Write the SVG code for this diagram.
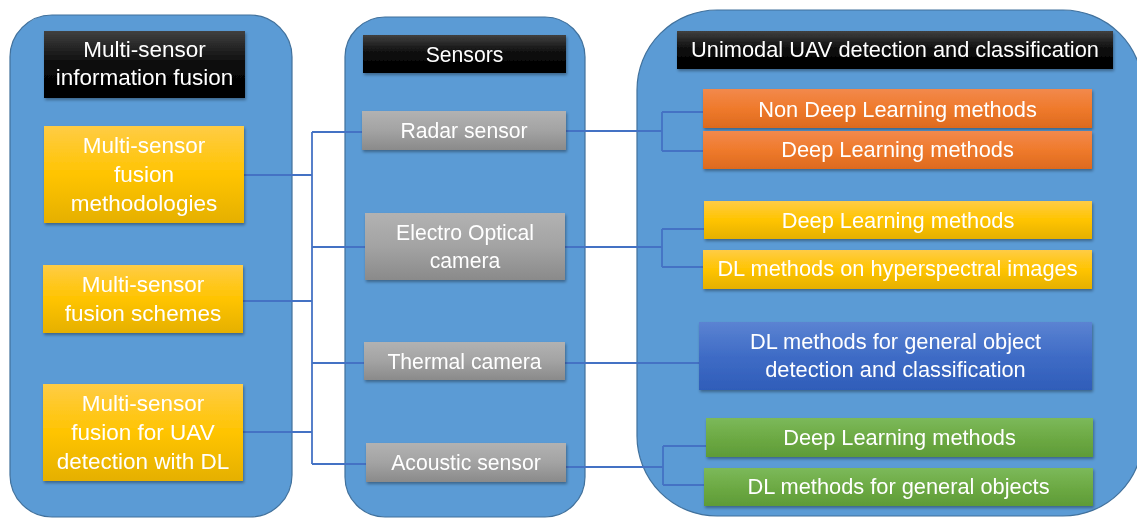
<svg xmlns="http://www.w3.org/2000/svg" width="1137" height="518" viewBox="0 0 1137 518">
<defs>
<linearGradient id="gBlack" x1="0" y1="0" x2="0" y2="1"><stop offset="0" stop-color="#404040"/><stop offset="0.5" stop-color="#0a0a0a"/><stop offset="1" stop-color="#000"/></linearGradient>
<linearGradient id="gYellow" x1="0" y1="0" x2="0" y2="1"><stop offset="0" stop-color="#FFCC45"/><stop offset="0.5" stop-color="#FFC400"/><stop offset="1" stop-color="#E5B000"/></linearGradient>
<linearGradient id="gOrange" x1="0" y1="0" x2="0" y2="1"><stop offset="0" stop-color="#F2894C"/><stop offset="0.5" stop-color="#EF7A2C"/><stop offset="1" stop-color="#DD6A1E"/></linearGradient>
<linearGradient id="gBlue" x1="0" y1="0" x2="0" y2="1"><stop offset="0" stop-color="#5B83D2"/><stop offset="0.5" stop-color="#3F6CC6"/><stop offset="1" stop-color="#2F5DB9"/></linearGradient>
<linearGradient id="gGreen" x1="0" y1="0" x2="0" y2="1"><stop offset="0" stop-color="#7CB95A"/><stop offset="0.5" stop-color="#6DAA44"/><stop offset="1" stop-color="#5E9B37"/></linearGradient>
<linearGradient id="gGray" x1="0" y1="0" x2="0" y2="1"><stop offset="0" stop-color="#B2B2B2"/><stop offset="0.5" stop-color="#A3A3A3"/><stop offset="1" stop-color="#8A8A8A"/></linearGradient>
<filter id="sh" x="-5%" y="-10%" width="110%" height="130%"><feDropShadow dx="1" dy="2" stdDeviation="1.5" flood-color="#000" flood-opacity="0.35"/></filter>
</defs>
<style>
.panel{fill:#5B9BD5;stroke:#41719C;stroke-width:1.2}
.box{filter:url(#sh)}
.t{font-family:"Liberation Sans",Arial,sans-serif;fill:#fff;text-anchor:middle}
.tl{font-size:22.5px}
.tm{font-size:21.2px}
.tr{font-size:21.8px}
.conn{fill:none;stroke:#4472C4;stroke-width:1.8}
</style>
<rect width="1137" height="518" fill="#fff"/>
<g id="panels">
<rect id="panel-left" class="panel" x="10" y="15" width="282" height="502" rx="42"/>
<rect id="panel-middle" class="panel" x="345" y="17" width="240" height="500" rx="40"/>
<rect id="panel-right" class="panel" x="637" y="10" width="506" height="506" rx="80"/>
</g>
<g id="connectors">
<path class="conn" d="M312 132 V464"/>
<path class="conn" d="M244 175 H312"/>
<path class="conn" d="M243 301 H312"/>
<path class="conn" d="M243 432 H312"/>
<path class="conn" d="M312 132 H362"/>
<path class="conn" d="M312 247 H365"/>
<path class="conn" d="M312 363 H364"/>
<path class="conn" d="M312 464 H366"/>
<path class="conn" d="M566 131 H662 M662 112 V151 M662 112 H703 M662 151 H703"/>
<path class="conn" d="M565 247 H662 M662 229 V267 M662 229 H704 M662 267 H703"/>
<path class="conn" d="M565 363 H699"/>
<path class="conn" d="M566 467 H663 M663 446 V485 M663 446 H706 M663 485 H704"/>
</g>
<g id="node-left-title" class="box"><rect x="44" y="31" width="201" height="67" fill="url(#gBlack)"/>
<text class="t tl" x="144.5" y="57">Multi-sensor</text><text class="t tl" x="144.5" y="85">information fusion</text></g>
<g id="node-fusion-methodologies" class="box"><rect x="44" y="126" width="200" height="97" fill="url(#gYellow)"/>
<text class="t tl" x="144" y="153">Multi-sensor</text><text class="t tl" x="144" y="182">fusion</text><text class="t tl" x="144" y="211">methodologies</text></g>
<g id="node-fusion-schemes" class="box"><rect x="43" y="265" width="200" height="68" fill="url(#gYellow)"/>
<text class="t tl" x="143" y="292">Multi-sensor</text><text class="t tl" x="143" y="321">fusion schemes</text></g>
<g id="node-fusion-uav" class="box"><rect x="43" y="384" width="200" height="97" fill="url(#gYellow)"/>
<text class="t tl" x="143" y="411">Multi-sensor</text><text class="t tl" x="143" y="440">fusion for UAV</text><text class="t tl" x="143" y="469">detection with DL</text></g>
<g id="node-sensors-title" class="box"><rect x="363" y="35" width="203" height="38" fill="url(#gBlack)"/>
<text class="t tm" x="464.5" y="62">Sensors</text></g>
<g id="node-radar" class="box"><rect x="362" y="111" width="204" height="39" fill="url(#gGray)"/>
<text class="t tm" x="464" y="138">Radar sensor</text></g>
<g id="node-eo" class="box"><rect x="365" y="213" width="200" height="67" fill="url(#gGray)"/>
<text class="t tm" x="465" y="240">Electro Optical</text><text class="t tm" x="465" y="268">camera</text></g>
<g id="node-thermal" class="box"><rect x="364" y="342" width="201" height="38" fill="url(#gGray)"/>
<text class="t tm" x="464.5" y="369">Thermal camera</text></g>
<g id="node-acoustic" class="box"><rect x="366" y="443" width="200" height="39" fill="url(#gGray)"/>
<text class="t tm" x="466" y="470">Acoustic sensor</text></g>
<g id="node-right-title" class="box"><rect x="677" y="31" width="436" height="38" fill="url(#gBlack)"/>
<text class="t tr" x="895" y="57">Unimodal UAV detection and classification</text></g>
<g id="node-radar-nondl" class="box"><rect x="703" y="89" width="389" height="39" fill="url(#gOrange)"/>
<text class="t tr" x="897.5" y="117">Non Deep Learning methods</text></g>
<g id="node-radar-dl" class="box"><rect x="703" y="131" width="389" height="38" fill="url(#gOrange)"/>
<text class="t tr" x="897.5" y="157">Deep Learning methods</text></g>
<g id="node-eo-dl" class="box"><rect x="704" y="201" width="388" height="38" fill="url(#gYellow)"/>
<text class="t tr" x="898" y="228">Deep Learning methods</text></g>
<g id="node-eo-hyper" class="box"><rect x="703" y="250" width="389" height="39" fill="url(#gYellow)"/>
<text class="t tr" x="897.5" y="276">DL methods on hyperspectral images</text></g>
<g id="node-thermal-dl" class="box"><rect x="699" y="322" width="393" height="68" fill="url(#gBlue)"/>
<text class="t tr" x="895.5" y="349">DL methods for general object</text><text class="t tr" x="895.5" y="377">detection and classification</text></g>
<g id="node-acoustic-dl" class="box"><rect x="706" y="418" width="387" height="39" fill="url(#gGreen)"/>
<text class="t tr" x="899.5" y="445">Deep Learning methods</text></g>
<g id="node-acoustic-general" class="box"><rect x="704" y="468" width="389" height="38" fill="url(#gGreen)"/>
<text class="t tr" x="898.5" y="494">DL methods for general objects</text></g>
</svg>
